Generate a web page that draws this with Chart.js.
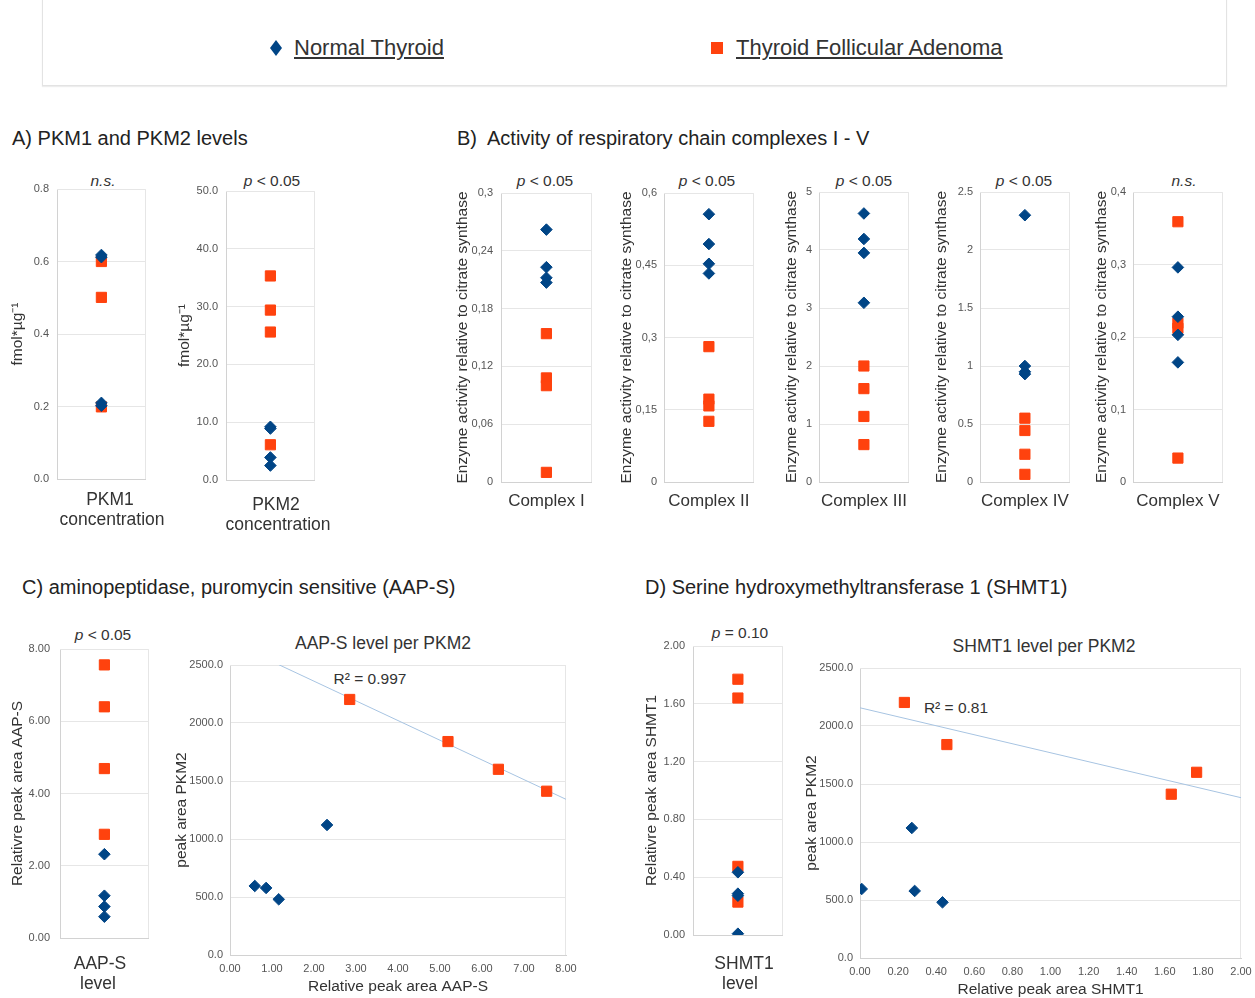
<!DOCTYPE html>
<html><head><meta charset="utf-8">
<script src="https://cdn.jsdelivr.net/npm/chart.js@4.4.1/dist/chart.umd.min.js"></script>
<style>
html,body{margin:0;padding:0;background:#fff;}
#root{position:relative;width:1255px;height:998px;overflow:hidden;font-family:'Liberation Sans',Arial,Helvetica,sans-serif;color:#333;}
.t{position:absolute;white-space:nowrap;}
.cv{position:absolute;}
</style></head><body><div id="root"></div>
<script>
// ---------------- data ----------------
const seriesNames = ['Normal Thyroid', 'Thyroid Follicular Adenoma'];

const pkm1Normal = [0.618, 0.612, 0.210, 0.202];
const pkm1Adenoma = [0.600, 0.501, 0.199];
const pkm2Normal = [9.2, 8.9, 3.9, 2.5];
const pkm2Adenoma = [35.3, 29.4, 25.6, 6.1];

const complex1Normal = [0.262, 0.223, 0.212, 0.207];
const complex1Adenoma = [0.154, 0.108, 0.100, 0.010];
const complex2Normal = [0.556, 0.494, 0.453, 0.433];
const complex2Adenoma = [0.281, 0.172, 0.158, 0.126];
const complex3Normal = [4.63, 4.19, 3.95, 3.09];
const complex3Adenoma = [2.00, 1.61, 1.13, 0.645];
const complex4Normal = [2.30, 1.00, 0.95, 0.93];
const complex4Adenoma = [0.55, 0.444, 0.239, 0.066];
const complex5Normal = [0.296, 0.228, 0.203, 0.165];
const complex5Adenoma = [0.359, 0.219, 0.212, 0.033];

const aapsNormal = [2.32, 1.17, 0.87, 0.59];
const aapsAdenoma = [7.56, 6.40, 4.69, 2.87];
const shmt1Normal = [0.434, 0.286, 0.272, 0.009];
const shmt1Adenoma = [1.77, 1.64, 0.475, 0.228];

// scatter panels: PKM2 peak area vs AAP-S / SHMT1
const pkm2AreaNormal = [595, 578, 480, 1121];
const pkm2AreaAdenoma = [2203, 1840, 1601, 1412];
const aapsScatterNormal = [0.59, 0.86, 1.16, 2.31];
const aapsScatterAdenoma = [2.85, 5.19, 6.39, 7.54];
const shmtScatterNormal = [0.009, 0.287, 0.433, 0.272];
const shmtScatterAdenoma = [0.233, 0.456, 1.767, 1.634];

// trend lines (end points)
const aapsTrendX = [0, 8];
const aapsTrendY = [2700, 1342];
const shmtTrendX = [0, 2];
const shmtTrendY = [2157, 1382];

// tick values / labels
const pkm1Ticks = [0, 0.2, 0.4, 0.6, 0.8];
const pkm1Labels = ['0.0', '0.2', '0.4', '0.6', '0.8'];
const pkm2Ticks = [0, 10, 20, 30, 40, 50];
const pkm2Labels = ['0.0', '10.0', '20.0', '30.0', '40.0', '50.0'];
const c1Ticks = [0, 0.06, 0.12, 0.18, 0.24, 0.3];
const c1Labels = ['0', '0,06', '0,12', '0,18', '0,24', '0,3'];
const c2Ticks = [0, 0.15, 0.3, 0.45, 0.6];
const c2Labels = ['0', '0,15', '0,3', '0,45', '0,6'];
const c3Ticks = [0, 1, 2, 3, 4, 5];
const c3Labels = ['0', '1', '2', '3', '4', '5'];
const c4Ticks = [0, 0.5, 1, 1.5, 2, 2.5];
const c4Labels = ['0', '0.5', '1', '1.5', '2', '2.5'];
const c5Ticks = [0, 0.1, 0.2, 0.3, 0.4];
const c5Labels = ['0', '0,1', '0,2', '0,3', '0,4'];
const aapsTicks = [0, 2, 4, 6, 8];
const aapsLabels = ['0.00', '2.00', '4.00', '6.00', '8.00'];
const shmtTicks = [0, 0.4, 0.8, 1.2, 1.6, 2.0];
const shmtLabels = ['0.00', '0.40', '0.80', '1.20', '1.60', '2.00'];
const areaTicks = [0, 500, 1000, 1500, 2000, 2500];
const areaLabels = ['0.0', '500.0', '1000.0', '1500.0', '2000.0', '2500.0'];
const aapsXTicks = [0, 1, 2, 3, 4, 5, 6, 7, 8];
const aapsXLabels = ['0.00', '1.00', '2.00', '3.00', '4.00', '5.00', '6.00', '7.00', '8.00'];
const shmtXTicks = [0, 0.2, 0.4, 0.6, 0.8, 1.0, 1.2, 1.4, 1.6, 1.8, 2.0];
const shmtXLabels = ['0.00', '0.20', '0.40', '0.60', '0.80', '1.00', '1.20', '1.40', '1.60', '1.80', '2.00'];

// ---------------- rendering ----------------
const C_NORMAL = '#004586', C_ADENOMA = '#ff420e';
const root = document.getElementById('root');
Chart.defaults.font.family = "'Liberation Sans', Arial, Helvetica, sans-serif";
Chart.defaults.color = '#555';

function txt(html, x, cy, size, opts) {
  opts = opts || {};
  const d = document.createElement('div');
  d.className = 't';
  const lh = Math.round(size * 1.25);
  d.style.fontSize = size + 'px';
  d.style.lineHeight = lh + 'px';
  d.style.top = (cy - lh / 2) + 'px';
  d.style.color = opts.color || '#333';
  if (opts.center) {
    d.style.left = (x - 200) + 'px';
    d.style.width = '400px';
    d.style.textAlign = 'center';
  } else {
    d.style.left = x + 'px';
  }
  if (opts.underline) d.style.textDecoration = 'underline';
  d.innerHTML = html;
  root.appendChild(d);
  return d;
}

const framePlugin = {
  id: 'frame',
  beforeDatasetsDraw(chart) {
    const {ctx, chartArea: a} = chart;
    ctx.save();
    ctx.strokeStyle = '#e6e6e6';
    ctx.lineWidth = 1;
    const r = Math.round(a.right) - 0.5, t = Math.round(a.top) + 0.5;
    ctx.beginPath();
    ctx.moveTo(Math.round(a.left), t);
    ctx.lineTo(r, t);
    ctx.lineTo(r, Math.round(a.bottom));
    ctx.stroke();
    ctx.restore();
  }
};

function stripPts(vals) { return vals.map(v => ({x: 1, y: v})); }
function xyPts(xs, ys) { return xs.map((x, i) => ({x: x, y: ys[i]})); }

function makeChart(s) {
  const yTitleSize = 15.5, lhY = yTitleSize * 1.2;
  const canvasLeft = Math.floor(s.yTitleCx - lhY / 2 - 2);
  const Wy = s.plot[0] - canvasLeft;
  const yTitlePad = s.yTitleCx - canvasLeft - lhY / 2;
  const padT = 18, padR = s.padR || 4;
  const canvasTop = s.plot[1] - padT;
  const xSize = s.xTitleSize, xLH = s.xTitleLH || 1.2;
  const lhX = xSize * xLH;
  const last = s.xTitleY[s.xTitleY.length - 1];
  const Hx = Math.ceil(last + lhX / 2 + 2 - s.plot[3]);
  const xTitlePadB = s.plot[3] + Hx - last - lhX / 2;
  const W = s.plot[2] + padR - canvasLeft;
  const H = s.plot[3] + Hx - canvasTop;

  const wrap = document.createElement('div');
  wrap.className = 'cv';
  wrap.style.left = canvasLeft + 'px';
  wrap.style.top = canvasTop + 'px';
  wrap.style.width = W + 'px';
  wrap.style.height = H + 'px';
  const cv = document.createElement('canvas');
  wrap.appendChild(cv);
  root.appendChild(wrap);

  const datasets = [
    {label: seriesNames[0], data: s.normal, pointStyle: 'rectRot', pointRadius: 5.8,
     backgroundColor: C_NORMAL, borderColor: C_NORMAL, borderWidth: 1, showLine: false},
    {label: seriesNames[1], data: s.adenoma, pointStyle: 'rect', pointRadius: 7.2,
     backgroundColor: C_ADENOMA, borderColor: C_ADENOMA, borderWidth: 1, showLine: false}
  ];
  if (s.trend) {
    datasets.push({label: 'trend', data: s.trend, showLine: true, pointRadius: 0,
      borderColor: '#a7c4e2', borderWidth: 1, clip: 0, order: 5});
  }
  const hasXT = !!s.xTicks;
  const htmlTitle = !!s.xTitleCx;
  new Chart(cv, {
    type: 'scatter',
    data: {datasets},
    options: {
      responsive: true, maintainAspectRatio: false, animation: false, events: [],
      layout: {padding: {left: 0, top: padT, right: padR, bottom: 0}},
      plugins: {legend: {display: false}, tooltip: {enabled: false}, title: {display: false}},
      scales: {
        x: {
          type: 'linear', min: s.xMin, max: s.xMax,
          afterFit(sc) { sc.height = Hx; },
          afterBuildTicks(sc) { sc.ticks = (hasXT ? s.xTicks : [s.xMin, s.xMax]).map(v => ({value: v})); },
          ticks: {display: hasXT, padding: s.xTickPad || 7, font: {size: 11}, color: '#555',
                  maxRotation: 0, autoSkip: false,
                  callback: (v, i) => hasXT ? s.xLabels[i] : ''},
          grid: {display: false, drawTicks: false},
          border: {display: true, color: '#d2d2d2'},
          title: {display: !htmlTitle, text: s.xTitle, color: '#333',
                  font: {size: xSize, lineHeight: xLH}, padding: {top: 0, bottom: xTitlePadB}}
        },
        y: {
          type: 'linear', min: s.yMin, max: s.yMax,
          afterFit(sc) { sc.width = Wy; },
          afterBuildTicks(sc) { sc.ticks = s.yTicks.map(v => ({value: v})); },
          ticks: {padding: s.plot[0] - s.tickRight, font: {size: 11}, color: '#555', autoSkip: false,
                  callback: (v, i) => s.yLabels[i]},
          grid: {color: '#e6e6e6', drawTicks: false},
          border: {display: true, color: '#d2d2d2'},
          title: {display: true, text: s.yTitle, color: '#333',
                  font: {size: yTitleSize}, padding: {top: yTitlePad, bottom: 0}}
        }
      }
    },
    plugins: [framePlugin]
  });
  if (htmlTitle) {
    s.xTitle.forEach((line, i) => txt(line, s.xTitleCx[i], s.xTitleY[i], xSize, {center: true}));
  }
}

// ---------- legend ----------
const box = document.createElement('div');
box.style.cssText = 'position:absolute;left:42px;top:-10px;width:1183px;height:94px;border:1px solid #e3e3e3;box-shadow:0 1px 1px #ededed;background:#fff;';
root.appendChild(box);
const dia = document.createElement('div');
dia.style.cssText = 'position:absolute;left:270px;top:40px;width:12px;height:16px;background:' + C_NORMAL + ';clip-path:polygon(50% 0,100% 50%,50% 100%,0 50%);';
root.appendChild(dia);
const sq = document.createElement('div');
sq.style.cssText = 'position:absolute;left:711px;top:42px;width:12px;height:12px;background:' + C_ADENOMA + ';';
root.appendChild(sq);
txt(seriesNames[0], 294, 48, 22, {underline: true, color: '#333'});
txt(seriesNames[1], 736, 48, 22, {underline: true, color: '#333'});

// ---------- headings ----------
txt('A) PKM1 and PKM2 levels', 12, 138, 20, {color: '#222'});
txt('B)&nbsp; Activity of respiratory chain complexes I - V', 457, 138, 20, {color: '#222'});
txt('C) aminopeptidase, puromycin sensitive (AAP-S)', 22, 587, 20, {color: '#222'});
txt('D) Serine hydroxymethyltransferase 1 (SHMT1)', 645, 587, 20, {color: '#222'});

// ---------- p-value headers ----------
const NS = '<i>n.s.</i>', P05 = '<i>p</i> &lt; 0.05';
txt(NS, 103, 180, 15.5, {center: true});
txt(P05, 272, 180, 15.5, {center: true});
txt(P05, 545, 180, 15.5, {center: true});
txt(P05, 707, 180, 15.5, {center: true});
txt(P05, 864, 180, 15.5, {center: true});
txt(P05, 1024, 180, 15.5, {center: true});
txt(NS, 1184, 180, 15.5, {center: true});
txt(P05, 103, 634, 15.5, {center: true});
txt('<i>p</i> = 0.10', 740, 632, 15.5, {center: true});

// ---------- scatter titles / R² ----------
txt('AAP-S level per PKM2', 383, 643, 17.5, {center: true});
txt('SHMT1 level per PKM2', 1044, 646, 17.5, {center: true});
txt('R² = 0.997', 370, 678, 15.5, {center: true});
txt('R² = 0.81', 956, 707, 15.5, {center: true});

// ---------- charts ----------
const ENZ = 'Enzyme activity relative to citrate synthase';
const stripBase = {xMin: 0, xMax: 2, yMin: 0};

makeChart(Object.assign({}, stripBase, {plot: [57, 189, 150, 479], yMax: 0.8, yTicks: pkm1Ticks, yLabels: pkm1Labels,
  yTitle: 'fmol*µg⁻¹', yTitleCx: 18, tickRight: 49, xTitle: ['PKM1', 'concentration'], xTitleY: [499, 519],
  xTitleCx: [110, 112], xTitleSize: 17.5, xTitleLH: 1.15, normal: stripPts(pkm1Normal), adenoma: stripPts(pkm1Adenoma)}));
makeChart(Object.assign({}, stripBase, {plot: [226, 191, 319, 480], yMax: 50, yTicks: pkm2Ticks, yLabels: pkm2Labels,
  yTitle: 'fmol*µg⁻¹', yTitleCx: 185, tickRight: 218, xTitle: ['PKM2', 'concentration'], xTitleY: [504, 524],
  xTitleCx: [276, 278], xTitleSize: 17.5, xTitleLH: 1.15, normal: stripPts(pkm2Normal), adenoma: stripPts(pkm2Adenoma)}));

makeChart(Object.assign({}, stripBase, {plot: [501, 193, 596, 482], yMax: 0.3, yTicks: c1Ticks, yLabels: c1Labels,
  yTitle: ENZ, yTitleCx: 463, tickRight: 493, xTitle: ['Complex I'], xTitleY: [501], xTitleSize: 17,
  normal: stripPts(complex1Normal), adenoma: stripPts(complex1Adenoma)}));
makeChart(Object.assign({}, stripBase, {plot: [664, 193, 758, 482], yMax: 0.6, yTicks: c2Ticks, yLabels: c2Labels,
  yTitle: ENZ, yTitleCx: 627, tickRight: 657, xTitle: ['Complex II'], xTitleY: [501], xTitleSize: 17,
  normal: stripPts(complex2Normal), adenoma: stripPts(complex2Adenoma)}));
makeChart(Object.assign({}, stripBase, {plot: [819, 192, 913, 482], yMax: 5, yTicks: c3Ticks, yLabels: c3Labels,
  yTitle: ENZ, yTitleCx: 792, tickRight: 812, xTitle: ['Complex III'], xTitleY: [501], xTitleSize: 17,
  normal: stripPts(complex3Normal), adenoma: stripPts(complex3Adenoma)}));
makeChart(Object.assign({}, stripBase, {plot: [980, 192, 1074, 482], yMax: 2.5, yTicks: c4Ticks, yLabels: c4Labels,
  yTitle: ENZ, yTitleCx: 942, tickRight: 973, xTitle: ['Complex IV'], xTitleY: [501], xTitleSize: 17,
  normal: stripPts(complex4Normal), adenoma: stripPts(complex4Adenoma)}));
makeChart(Object.assign({}, stripBase, {plot: [1133, 192, 1227, 482], yMax: 0.4, yTicks: c5Ticks, yLabels: c5Labels,
  yTitle: ENZ, yTitleCx: 1102, tickRight: 1126, xTitle: ['Complex V'], xTitleY: [501], xTitleSize: 17,
  normal: stripPts(complex5Normal), adenoma: stripPts(complex5Adenoma)}));

makeChart(Object.assign({}, stripBase, {plot: [60, 649, 153, 938], yMax: 8, yTicks: aapsTicks, yLabels: aapsLabels,
  yTitle: 'Relativre peak area AAP-S', yTitleCx: 18, tickRight: 50, xTitle: ['AAP-S', 'level'], xTitleY: [963, 983],
  xTitleCx: [100, 98], xTitleSize: 17.5, xTitleLH: 1.15, normal: stripPts(aapsNormal), adenoma: stripPts(aapsAdenoma)}));
makeChart(Object.assign({}, stripBase, {plot: [693, 646, 787, 935], yMax: 2, yTicks: shmtTicks, yLabels: shmtLabels,
  yTitle: 'Relativre peak area SHMT1', yTitleCx: 652, tickRight: 685, xTitle: ['SHMT1', 'level'], xTitleY: [963, 983],
  xTitleCx: [744, 740], xTitleSize: 17.5, xTitleLH: 1.15, normal: stripPts(shmt1Normal), adenoma: stripPts(shmt1Adenoma)}));

makeChart({plot: [230, 665, 566, 955], xMin: 0, xMax: 8, yMin: 0, yMax: 2500, yTicks: areaTicks, yLabels: areaLabels,
  xTicks: aapsXTicks, xLabels: aapsXLabels, xTickPad: 7, padR: 22,
  yTitle: 'peak area PKM2', yTitleCx: 182, tickRight: 223, xTitle: ['Relative peak area AAP-S'], xTitleY: [987],
  xTitleSize: 15.5, normal: xyPts(aapsScatterNormal, pkm2AreaNormal), adenoma: xyPts(aapsScatterAdenoma, pkm2AreaAdenoma),
  trend: xyPts(aapsTrendX, aapsTrendY)});
makeChart({plot: [860, 668, 1241, 958], xMin: 0, xMax: 2, yMin: 0, yMax: 2500, yTicks: areaTicks, yLabels: areaLabels,
  xTicks: shmtXTicks, xLabels: shmtXLabels, xTickPad: 7, padR: 22,
  yTitle: 'peak area PKM2', yTitleCx: 812, tickRight: 853, xTitle: ['Relative peak area SHMT1'], xTitleY: [990],
  xTitleSize: 15.5, normal: xyPts(shmtScatterNormal, pkm2AreaNormal), adenoma: xyPts(shmtScatterAdenoma, pkm2AreaAdenoma),
  trend: xyPts(shmtTrendX, shmtTrendY)});
</script>
</body></html>
